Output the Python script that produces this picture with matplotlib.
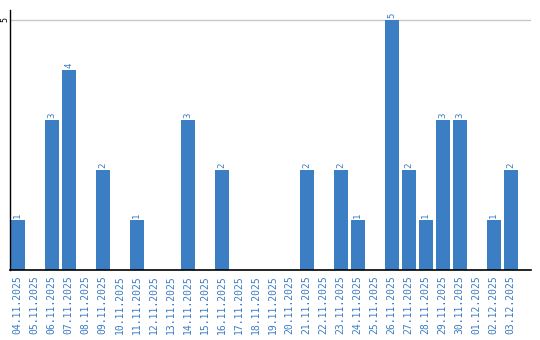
import matplotlib
matplotlib.use("Agg")
import matplotlib.pyplot as plt

dates = ["04.11.2025", "05.11.2025", "06.11.2025", "07.11.2025", "08.11.2025",
         "09.11.2025", "10.11.2025", "11.11.2025", "12.11.2025", "13.11.2025",
         "14.11.2025", "15.11.2025", "16.11.2025", "17.11.2025", "18.11.2025",
         "19.11.2025", "20.11.2025", "21.11.2025", "22.11.2025", "23.11.2025",
         "24.11.2025", "25.11.2025", "26.11.2025", "27.11.2025", "28.11.2025",
         "29.11.2025", "30.11.2025", "01.12.2025", "02.12.2025", "03.12.2025"]
values = [1, 0, 3, 4, 0, 2, 0, 1, 0, 0, 3, 0, 2, 0, 0, 0, 0, 2, 0, 2,
          1, 0, 5, 2, 1, 3, 3, 0, 1, 2]

bar_color = "#3b7ec4"
label_color = "#3a7cc2"

fig = plt.figure(figsize=(5.4, 3.4), dpi=100)
ax = fig.add_axes([10/540, 1 - 270/340, 521/540, 260/340])

x = list(range(len(dates)))
w = 0.82
ax.bar(x, values, width=w, color=bar_color, zorder=2)
for xi, v in zip(x, values):
    if v > 0:
        ax.text(xi, v + 0.05, str(v), rotation=90, ha="center", va="bottom",
                fontsize=6.5, color=label_color, family="DejaVu Sans Mono")

ax.set_xlim(-w/2 - 0.04, -w/2 - 0.04 + 521/17)
ax.set_ylim(0, 5.2)
ax.set_yticks([5])
ax.set_yticklabels(["5"], rotation=90, fontsize=6, family="DejaVu Sans Mono",
                   va="center", ha="right")
ax.yaxis.grid(True, color="#c8c8c8", linewidth=1, zorder=0)
ax.tick_params(axis="y", length=0, pad=0.5)
ax.set_xticks(x)
ax.set_xticklabels(dates, rotation=90, fontsize=7, color=label_color,
                   family="DejaVu Sans Mono")
ax.tick_params(axis="x", length=0, pad=4)
for s in ["top", "right"]:
    ax.spines[s].set_visible(False)
ax.spines["left"].set_color("black")
ax.spines["bottom"].set_color("black")
ax.spines["left"].set_linewidth(1)
ax.spines["bottom"].set_linewidth(1.2)

fig.savefig("out.png", dpi=100)
